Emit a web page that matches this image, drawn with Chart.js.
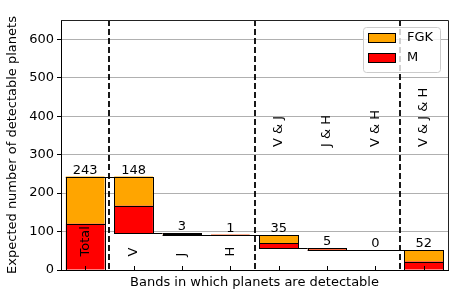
<!DOCTYPE html>
<html>
<head>
<meta charset="utf-8">
<script src="https://cdn.jsdelivr.net/npm/chart.js@4.4.0/dist/chart.umd.min.js"></script>
<style>
  html, body { margin: 0; padding: 0; background: #fff; }
  #wrap { width: 458px; height: 297px; }
</style>
</head>
<body>
<div id="wrap"><canvas id="chart" width="458" height="297"></canvas></div>
<script>
// Datos del gráfico (cascada de planetas detectables por banda)
const categories = ['Total', 'V', 'J', 'H', 'V & J', 'J & H', 'V & H', 'V & J & H'];
const bases = [0, 95, 92, 91, 56, 51, 51, 0];
const mPlanets = [120, 72, 1, 0.5, 14, 2, 0, 22];
const fgkPlanets = [123, 76, 2, 0.5, 21, 3, 0, 30];
const totalLabels = ['243', '148', '3', '1', '35', '5', '0', '52'];
const yTicks = [0, 100, 200, 300, 400, 500, 600];
const dividers = [0.5, 3.5, 6.5];

const FONT = 'DejaVu Sans';

const mRanges = categories.map((_, i) => [bases[i], bases[i] + mPlanets[i]]);
const fgkRanges = categories.map((_, i) => [bases[i] + mPlanets[i], bases[i] + mPlanets[i] + fgkPlanets[i]]);
const tops = categories.map((_, i) => bases[i] + mPlanets[i] + fgkPlanets[i]);

// Textos, líneas de conexión, divisores y leyenda
const overlayPlugin = {
    id: 'overlay',
    afterDatasetsDraw(chart) {
        const ctx = chart.ctx;
        const x = chart.scales.x;
        const y = chart.scales.y;
        const area = chart.chartArea;
        const meta = chart.getDatasetMeta(0);
        const half = i => meta.data[i].width / 2;

        ctx.save();

        // contorno negro de cada segmento
        ctx.strokeStyle = '#000';
        ctx.lineWidth = 1;
        chart.data.datasets.forEach((ds, d) => {
            chart.getDatasetMeta(d).data.forEach(bar => {
                const l = Math.round(bar.x - bar.width / 2) + 0.5;
                const r = Math.round(bar.x + bar.width / 2) + 0.5;
                const t = Math.round(Math.min(bar.y, bar.base)) + 0.5;
                const b = Math.round(Math.max(bar.y, bar.base)) + 0.5;
                ctx.strokeRect(l, t, r - l, b - t);
            });
        });

        // conectores de la cascada
        for (let i = 0; i < categories.length - 1; i++) {
            const lvl = Math.round(y.getPixelForValue(tops[i + 1])) + 0.5;
            ctx.beginPath();
            ctx.moveTo(x.getPixelForValue(i) - half(i), lvl);
            ctx.lineTo(x.getPixelForValue(i + 1) - half(i + 1), lvl);
            ctx.stroke();
        }

        // divisores discontinuos
        ctx.lineWidth = 1.8;
        ctx.setLineDash([6, 3]);
        dividers.forEach(d => {
            const px = Math.round((x.getPixelForValue(d - 0.5) + x.getPixelForValue(d + 0.5)) / 2);
            ctx.beginPath();
            ctx.moveTo(px, area.top);
            ctx.lineTo(px, area.bottom);
            ctx.stroke();
        });
        ctx.setLineDash([]);

        // valores sobre las barras
        ctx.fillStyle = '#000';
        ctx.font = '13px ' + FONT;
        ctx.textAlign = 'center';
        ctx.textBaseline = 'alphabetic';
        totalLabels.forEach((t, i) => {
            ctx.fillText(t, x.getPixelForValue(i), y.getPixelForValue(tops[i]) - 3);
        });

        // nombres de categorías rotados
        categories.forEach((c, i) => {
            const anchor = i < 4 ? 35 : 320;
            ctx.save();
            ctx.translate(x.getPixelForValue(i), y.getPixelForValue(anchor));
            ctx.rotate(-Math.PI / 2);
            ctx.textAlign = 'left';
            ctx.textBaseline = 'middle';
            ctx.fillText(c, 0, 0);
            ctx.restore();
        });

        // marcas del eje x hacia adentro
        ctx.lineWidth = 1;
        categories.forEach((_, i) => {
            const px = Math.round(x.getPixelForValue(i)) + 0.5;
            ctx.beginPath();
            ctx.moveTo(px, area.bottom);
            ctx.lineTo(px, area.bottom - 4);
            ctx.stroke();
        });

        // bordes superior y derecho
        ctx.strokeStyle = '#222';
        ctx.beginPath();
        ctx.moveTo(area.left, area.top + 0.5);
        ctx.lineTo(area.right + 0.5, area.top + 0.5);
        ctx.lineTo(area.right + 0.5, area.bottom);
        ctx.stroke();

        // leyenda
        const lx = 363, ly = 27, lw = 77, lh = 45;
        ctx.fillStyle = 'rgba(255,255,255,0.8)';
        ctx.strokeStyle = '#cccccc';
        ctx.beginPath();
        ctx.roundRect(lx + 0.5, ly + 0.5, lw, lh, 3);
        ctx.fill();
        ctx.stroke();
        const entries = [['FGK', '#FFA500', 33], ['M', '#FF0000', 53]];
        entries.forEach(([name, color, ey]) => {
            ctx.fillStyle = color;
            ctx.fillRect(368, ey, 28, 10);
            ctx.strokeStyle = '#000';
            ctx.strokeRect(368.5, ey + 0.5, 27, 9);
            ctx.fillStyle = '#000';
            ctx.textAlign = 'left';
            ctx.textBaseline = 'middle';
            ctx.fillText(name, 407, ey + 5);
        });

        ctx.restore();
    }
};

new Chart(document.getElementById('chart'), {
    type: 'bar',
    data: {
        labels: categories,
        datasets: [
            { label: 'M', data: mRanges, backgroundColor: '#FF0000', borderWidth: 0 },
            { label: 'FGK', data: fgkRanges, backgroundColor: '#FFA500', borderWidth: 0 }
        ]
    },
    options: {
        responsive: false,
        animation: false,
        devicePixelRatio: 1,
        layout: { padding: { top: 20, right: 10, left: 0, bottom: 0 } },
        datasets: {
            bar: {
                grouped: false,
                barPercentage: 0.8,
                categoryPercentage: 1.0
            }
        },
        plugins: { legend: { display: false }, tooltip: { enabled: false } },
        scales: {
            x: {
                afterFit: s => { s.height = 27; },
                ticks: { display: false },
                grid: { display: false },
                border: { color: '#000' },
                title: {
                    display: true,
                    text: 'Bands in which planets are detectable',
                    color: '#000',
                    font: { family: FONT, size: 13 },
                    padding: { top: 0, bottom: 7 }
                }
            },
            y: {
                min: 0,
                max: 650,
                afterFit: s => { s.width = 61; },
                afterBuildTicks: s => { s.ticks = yTicks.map(v => ({ value: v })); },
                ticks: { color: '#000', font: { family: FONT, size: 13 }, padding: 3 },
                grid: { color: '#b0b0b0', tickColor: '#000', tickLength: 4 },
                border: { color: '#000' },
                title: {
                    display: true,
                    text: 'Expected number of detectable planets',
                    color: '#000',
                    font: { family: FONT, size: 13 },
                    padding: { top: 5, bottom: 0 }
                }
            }
        }
    },
    plugins: [overlayPlugin]
});
</script>
</body>
</html>
